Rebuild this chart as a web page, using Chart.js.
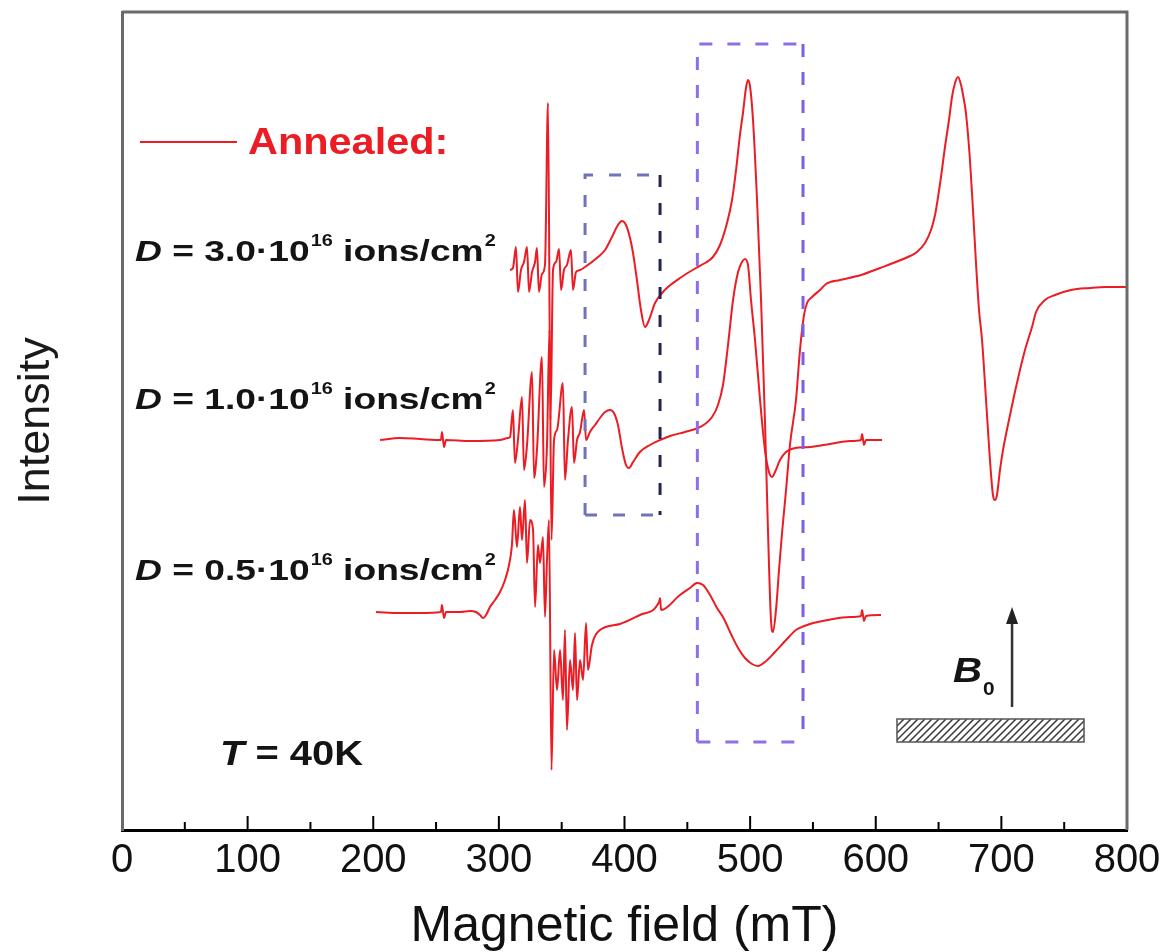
<!DOCTYPE html>
<html>
<head>
<meta charset="utf-8">
<script src="https://cdn.jsdelivr.net/npm/chart.js@4.4.1/dist/chart.umd.min.js"></script>
<style>
  html, body { margin: 0; padding: 0; background: #fff; }
  #wrap { width: 1171px; height: 952px; }
</style>
</head>
<body>
<div id="wrap"><canvas id="c" width="1171" height="952"></canvas></div>
<script>
const FONT = '"Liberation Sans", Arial, Helvetica, sans-serif'
const RED = '#ec1c24'

// x axis ticks (mT)
const tickValues = [0, 100, 200, 300, 400, 500, 600, 700, 800]
const minorValues = [50, 150, 250, 350, 450, 550, 650, 750]

// D = 3.0e16 (top trace), field in mT / intensity in a.u. (offset)
const fieldHigh = [308.9, 311.2, 313.6, 315.2, 317.6, 320.0, 322.4, 324.0, 326.4, 328.8, 330.3, 331.9, 334.3, 336.7, 339.1, 341.1, 343.1, 345.5, 347.9, 349.5, 351.8, 354.2, 357.4, 359.0, 361.4, 364.6, 368.6, 378.9, 384.5, 390.0, 394.8, 398.0, 401.2, 404.4, 406.8, 409.9, 413.1, 416.3, 419.5, 424.3, 429.9, 434.6, 444.2, 456.9, 464.1, 470.4, 476.0, 481.6, 485.6, 488.8, 491.9, 494.3, 496.7, 498.3, 499.9, 502.3, 505.5, 508.7, 511.8, 514.2, 516.6, 518.2, 520.6, 523.0, 525.4, 528.6, 531.7, 536.5, 539.7, 542.9, 545.3, 549.3, 555.6, 560.4, 571.5, 588.3, 603.4, 616.1, 627.3, 632.8, 639.2, 644.0, 647.2, 649.6, 652.7, 655.1, 658.3, 660.7, 663.1, 665.5, 667.9, 670.2, 671.8, 675.0, 677.4, 679.8, 682.2, 684.6, 687.8, 690.9, 693.3, 694.9, 696.5, 698.9, 701.3, 706.9, 712.4, 718.8, 724.4, 727.6, 734.7, 742.7, 755.4, 770.5, 783.3, 800.0]
const intHigh = [560, 562, 583, 538, 560, 568, 583, 538, 558, 568, 582, 538, 556, 565, 727, 410, 560, 568, 581, 540, 560, 565, 580, 540, 558, 560, 563, 573, 580, 593, 605, 609, 605, 592, 577, 550, 520, 503, 510, 527, 537, 543, 552, 562, 567, 573, 585, 607, 630, 660, 695, 717, 742, 750, 744, 710, 630, 530, 410, 300, 210, 198, 220, 260, 297, 340, 385, 430, 480, 515, 527, 533, 540, 546, 550, 555, 562, 568, 574, 578, 587, 600, 615, 633, 660, 683, 710, 733, 747, 753, 745, 730, 717, 670, 620, 567, 520, 490, 430, 370, 335, 330, 335, 360, 380, 415, 447, 480, 503, 518, 530, 535, 540, 542, 543, 543]

// D = 1.0e16 (middle trace)
const fieldMid = [205.4, 221.3, 237.2, 253.9, 254.7, 256.3, 257.9, 277.0, 300.9, 307.3, 308.9, 311.2, 312.8, 315.2, 318.4, 320.0, 322.4, 326.4, 328.0, 330.3, 334.3, 335.9, 338.3, 340.3, 341.9, 343.9, 346.3, 351.0, 352.6, 355.0, 358.2, 359.8, 362.2, 364.6, 367.8, 369.4, 372.5, 376.5, 380.5, 384.5, 388.5, 391.6, 394.8, 398.0, 401.2, 403.6, 406.8, 412.3, 420.3, 428.3, 436.2, 448.2, 458.5, 464.1, 469.7, 474.4, 478.4, 482.4, 486.4, 490.4, 493.5, 495.9, 498.3, 500.7, 503.9, 507.9, 511.8, 515.0, 517.4, 519.8, 523.8, 528.6, 535.7, 547.7, 563.6, 579.5, 588.3, 589.1, 590.6, 592.2, 605.0]
const intMid = [390, 392, 391, 390, 398, 383, 390, 389, 390, 392, 393, 420, 367, 390, 433, 360, 385, 458, 352, 380, 473, 343, 385, 500, 290, 390, 400, 447, 350, 390, 423, 367, 390, 398, 420, 390, 398, 405, 412, 418, 420, 417, 405, 382, 365, 362, 368, 378, 385, 390, 394, 398, 402, 406, 413, 425, 445, 485, 530, 558, 568, 571, 565, 530, 490, 430, 380, 358, 353, 358, 370, 378, 382, 383, 386, 389, 390, 396, 385, 390, 390]

// D = 0.5e16 (bottom trace)
const fieldLow = [202.2, 221.3, 237.2, 253.9, 254.7, 256.3, 257.9, 269.1, 277.0, 281.8, 285.0, 287.4, 289.8, 292.9, 296.9, 300.9, 304.9, 308.1, 310.4, 312.0, 314.4, 316.8, 318.4, 320.8, 322.4, 324.8, 327.2, 328.8, 331.1, 332.7, 335.1, 336.7, 338.3, 339.9, 341.9, 343.9, 346.3, 348.7, 351.0, 352.6, 354.2, 356.6, 359.0, 360.6, 362.2, 364.6, 367.0, 369.4, 370.9, 374.1, 380.5, 396.4, 412.3, 427.5, 428.3, 429.1, 444.2, 452.1, 457.7, 462.5, 468.1, 473.6, 478.4, 484.0, 490.4, 495.9, 501.5, 506.3, 511.8, 519.8, 528.6, 536.5, 547.7, 562.0, 579.5, 588.3, 589.1, 590.6, 592.2, 604.2]
const intLow = [218, 217, 217, 218, 225, 212, 218, 218, 219, 218, 215, 212, 215, 223, 230, 238, 250, 265, 285, 320, 283, 323, 290, 330, 267, 310, 300, 223, 285, 267, 293, 213, 270, 310, 60, 180, 140, 180, 130, 200, 100, 170, 140, 197, 130, 170, 150, 207, 160, 185, 200, 206, 215, 228, 232, 220, 235, 242, 247, 245, 235, 222, 213, 198, 182, 172, 166, 164, 168, 178, 190, 200, 206, 210, 213, 214, 220, 209, 214, 215]

const doseValues = ['3.0', '1.0', '0.5']

// annotation anchors, in axis units (mT, a.u.)
const notes = {
  legend: { x0: 14.3, x1: 91.5, y: 688, textX: 100.3, textY: 676 },
  doses: [{ x: 10.3, y: 569 }, { x: 10.3, y: 421 }, { x: 10.3, y: 250 }],
  temp: { x: 78.0, y: 65 },
  boxes: [
    { x0: 368.6, x1: 428.3, y0: 315, y1: 655, color: '#7073b8', right: '#23244f', dash: [12, 16] },
    { x0: 458.0, x1: 542.1, y0: 88, y1: 786, color: '#8f6fe6', right: '#7d5fe0', dash: [13, 15] }
  ],
  field: { arrowX: 708.5, arrowY0: 123, arrowY1: 223, bX: 661.5, bY: 148, plateX0: 616.9, plateX1: 765.8, plateY0: 88, plateY1: 111 }
}

const series = [
  { field: fieldHigh, value: intHigh },
  { field: fieldMid, value: intMid },
  { field: fieldLow, value: intLow }
]

function wideText(ctx, str, x, y, font, sx) {
  ctx.save()
  ctx.font = font
  const w = ctx.measureText(str).width
  ctx.translate(x, y)
  ctx.scale(sx, 1)
  ctx.fillText(str, 0, 0)
  ctx.restore()
  return w * sx
}

const decor = {
  id: 'decor',
  afterDatasetsDraw(chart) {
    const { ctx, chartArea: a, scales: { x, y } } = chart
    const X = v => x.getPixelForValue(v)
    const Y = v => y.getPixelForValue(v)
    ctx.save()

    // dashed boxes
    notes.boxes.forEach(b => {
      ctx.lineWidth = 3
      ctx.setLineDash(b.dash)
      ctx.strokeStyle = b.color
      ctx.beginPath()
      ctx.moveTo(X(b.x0), Y(b.y0)); ctx.lineTo(X(b.x0), Y(b.y1)); ctx.lineTo(X(b.x1), Y(b.y1))
      ctx.moveTo(X(b.x0), Y(b.y0)); ctx.lineTo(X(b.x1), Y(b.y0))
      ctx.stroke()
      ctx.strokeStyle = b.right
      ctx.beginPath()
      ctx.moveTo(X(b.x1), Y(b.y1)); ctx.lineTo(X(b.x1), Y(b.y0))
      ctx.stroke()
    })
    ctx.setLineDash([])

    // frame top / right
    ctx.strokeStyle = '#6a6a6a'
    ctx.lineWidth = 3
    ctx.beginPath()
    ctx.moveTo(a.left, a.top); ctx.lineTo(a.right, a.top); ctx.lineTo(a.right, a.bottom)
    ctx.stroke()

    // inward ticks
    ctx.strokeStyle = '#000'
    ctx.lineWidth = 2
    ctx.beginPath()
    tickValues.slice(1, -1).forEach(v => { ctx.moveTo(X(v), a.bottom); ctx.lineTo(X(v), a.bottom - 14) })
    minorValues.forEach(v => { ctx.moveTo(X(v), a.bottom); ctx.lineTo(X(v), a.bottom - 8) })
    ctx.stroke()

    // legend
    ctx.strokeStyle = RED
    ctx.lineWidth = 2
    ctx.beginPath()
    ctx.moveTo(X(notes.legend.x0), Y(notes.legend.y)); ctx.lineTo(X(notes.legend.x1), Y(notes.legend.y))
    ctx.stroke()
    ctx.fillStyle = RED
    ctx.textBaseline = 'alphabetic'
    ctx.textAlign = 'left'
    wideText(ctx, 'Annealed:', X(notes.legend.textX), Y(notes.legend.textY), 'bold 37px ' + FONT, 1.12)

    // dose labels
    ctx.fillStyle = '#141414'
    doseValues.forEach((d, i) => {
      const p = notes.doses[i]
      let cx = X(p.x)
      const cy = Y(p.y)
      const sx = 1.24
      cx += wideText(ctx, 'D', cx, cy, 'italic bold 30px ' + FONT, sx)
      cx += wideText(ctx, ' = ' + d + '\u00b710', cx, cy, 'bold 30px ' + FONT, sx)
      cx += wideText(ctx, '16', cx + 1, cy - 15, 'bold 16px ' + FONT, sx) + 1
      cx += wideText(ctx, ' ions/cm', cx, cy, 'bold 30px ' + FONT, sx)
      wideText(ctx, '2', cx + 1, cy - 15, 'bold 16px ' + FONT, sx)
    })

    // temperature
    let tx = X(notes.temp.x)
    const ty = Y(notes.temp.y)
    tx += wideText(ctx, 'T', tx, ty, 'italic bold 35px ' + FONT, 1.14)
    wideText(ctx, ' = 40K', tx, ty, 'bold 35px ' + FONT, 1.14)

    // B0 arrow and sample plate
    const f = notes.field
    const ax = X(f.arrowX)
    ctx.strokeStyle = '#333'
    ctx.lineWidth = 2.5
    ctx.beginPath()
    ctx.moveTo(ax, Y(f.arrowY0)); ctx.lineTo(ax, Y(f.arrowY1) + 14)
    ctx.stroke()
    ctx.fillStyle = '#222'
    ctx.beginPath()
    ctx.moveTo(ax, Y(f.arrowY1)); ctx.lineTo(ax - 6, Y(f.arrowY1) + 17); ctx.lineTo(ax + 6, Y(f.arrowY1) + 17)
    ctx.closePath(); ctx.fill()
    ctx.fillStyle = '#141414'
    const bw = wideText(ctx, 'B', X(f.bX), Y(f.bY), 'italic bold 35px ' + FONT, 1.15)
    wideText(ctx, '0', X(f.bX) + bw + 1, Y(f.bY) + 13, 'bold 19px ' + FONT, 1.1)

    const px0 = X(f.plateX0), px1 = X(f.plateX1), py0 = Y(f.plateY1), py1 = Y(f.plateY0)
    ctx.save()
    ctx.beginPath(); ctx.rect(px0, py0, px1 - px0, py1 - py0); ctx.clip()
    ctx.strokeStyle = '#3a3a3a'
    ctx.lineWidth = 1.5
    ctx.beginPath()
    for (let hx = px0 - 30; hx < px1 + 30; hx += 7) { ctx.moveTo(hx, py1); ctx.lineTo(hx + (py1 - py0), py0) }
    ctx.stroke()
    ctx.restore()
    ctx.strokeStyle = '#555'
    ctx.lineWidth = 1.5
    ctx.strokeRect(px0, py0, px1 - px0, py1 - py0)

    ctx.restore()
  }
}

new Chart(document.getElementById('c'), {
  type: 'line',
  data: {
    datasets: series.map(s => ({
      data: s.field.map((v, i) => ({ x: v, y: s.value[i] })),
      borderColor: RED,
      borderWidth: 2,
      pointRadius: 0,
      fill: false,
      cubicInterpolationMode: 'monotone'
    }))
  },
  options: {
    responsive: false,
    devicePixelRatio: 1,
    animation: false,
    layout: { padding: { left: 0, right: 44, top: 12, bottom: 0 } },
    plugins: { legend: { display: false }, tooltip: { enabled: false } },
    scales: {
      x: {
        type: 'linear', min: 0, max: 800,
        afterBuildTicks: s => { s.ticks = tickValues.map(v => ({ value: v })) },
        ticks: { color: '#111', font: { family: FONT, size: 40 }, padding: 7, maxRotation: 0, autoSkip: false },
        grid: { display: false, drawTicks: false },
        border: { display: true, color: '#000', width: 3 },
        title: { display: true, text: 'Magnetic field (mT)', color: '#111', font: { family: FONT, size: 50, lineHeight: 1 }, padding: { top: 10, bottom: 0 } }
      },
      y: {
        min: 0, max: 818,
        ticks: { display: false },
        grid: { display: false, drawTicks: false },
        border: { display: true, color: '#6a6a6a', width: 3 },
        title: { display: true, text: 'Intensity', color: '#1a1a1a', font: { family: FONT, size: 45, lineHeight: 1 }, padding: { top: 14, bottom: 63 } }
      }
    }
  },
  plugins: [decor]
})
</script>
</body>
</html>
